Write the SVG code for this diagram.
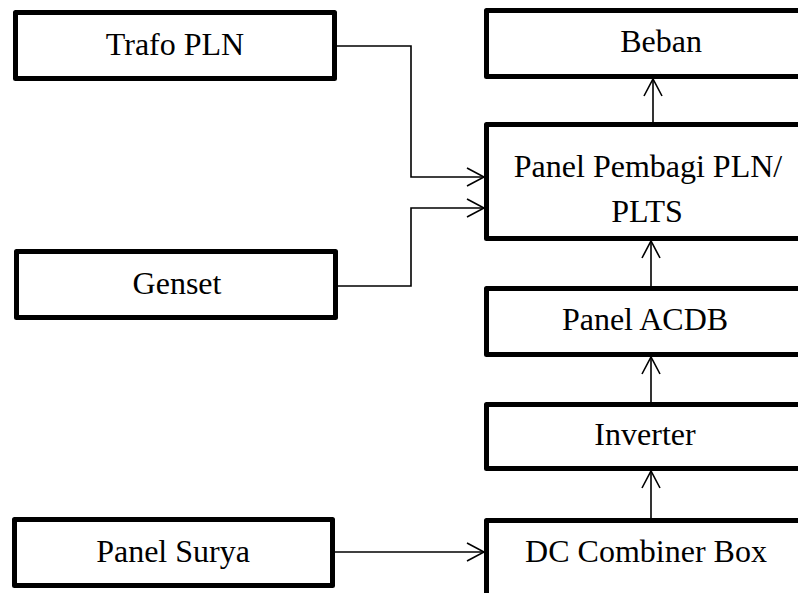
<svg xmlns="http://www.w3.org/2000/svg" width="798" height="593" viewBox="0 0 798 593">
<style>
.box{fill:#fff;stroke:#000;stroke-width:5;stroke-linejoin:round}
.lbl{font-family:"Liberation Serif","Times New Roman",serif;font-size:32px;fill:#000;text-anchor:middle}
.con{fill:none;stroke:#000;stroke-width:1.6}
</style>
<defs>
<marker id="arr" markerUnits="userSpaceOnUse" markerWidth="20" markerHeight="20" viewBox="-18 -10 20 20" refX="0" refY="0" orient="auto" overflow="visible">
<path d="M-17,-9 L0,0 L-17,9" fill="none" stroke="#000" stroke-width="1.6"/>
</marker>
</defs>
<rect width="798" height="593" fill="#fff"/>
<g id="trafo"><rect class="box" x="15.5" y="12.5" width="319" height="66"/><text class="lbl" x="175" y="55">Trafo PLN</text></g>
<g id="genset"><rect class="box" x="16.5" y="251.5" width="319" height="66"/><text class="lbl" x="177" y="294">Genset</text></g>
<g id="panelsurya"><rect class="box" x="14.5" y="519.5" width="318" height="66"/><text class="lbl" x="173" y="562">Panel Surya</text></g>
<g id="beban"><rect class="box" x="486.5" y="10.5" width="330" height="66"/><text class="lbl" x="661" y="52">Beban</text></g>
<g id="pembagi"><rect class="box" x="486.5" y="124.5" width="330" height="114"/><text class="lbl" x="648" y="177">Panel Pembagi PLN/</text><text class="lbl" x="647" y="222">PLTS</text></g>
<g id="acdb"><rect class="box" x="486.5" y="288.5" width="330" height="66"/><text class="lbl" x="645" y="330">Panel ACDB</text></g>
<g id="inverter"><rect class="box" x="486.5" y="404.5" width="330" height="64"/><text class="lbl" x="645" y="445">Inverter</text></g>
<g id="dccombiner"><rect class="box" x="486.5" y="520.5" width="330" height="100"/><text class="lbl" x="646" y="562">DC Combiner Box</text></g>
<g id="connectors">
<path class="con" d="M337,46 H411 V177 H484" marker-end="url(#arr)"/>
<path class="con" d="M338,286 H411 V208 H484" marker-end="url(#arr)"/>
<path class="con" d="M653,122 V79" marker-end="url(#arr)"/>
<path class="con" d="M651,286 V241" marker-end="url(#arr)"/>
<path class="con" d="M651,402 V357" marker-end="url(#arr)"/>
<path class="con" d="M651,518 V471" marker-end="url(#arr)"/>
<path class="con" d="M335,552 H484" marker-end="url(#arr)"/>
</g>
</svg>
